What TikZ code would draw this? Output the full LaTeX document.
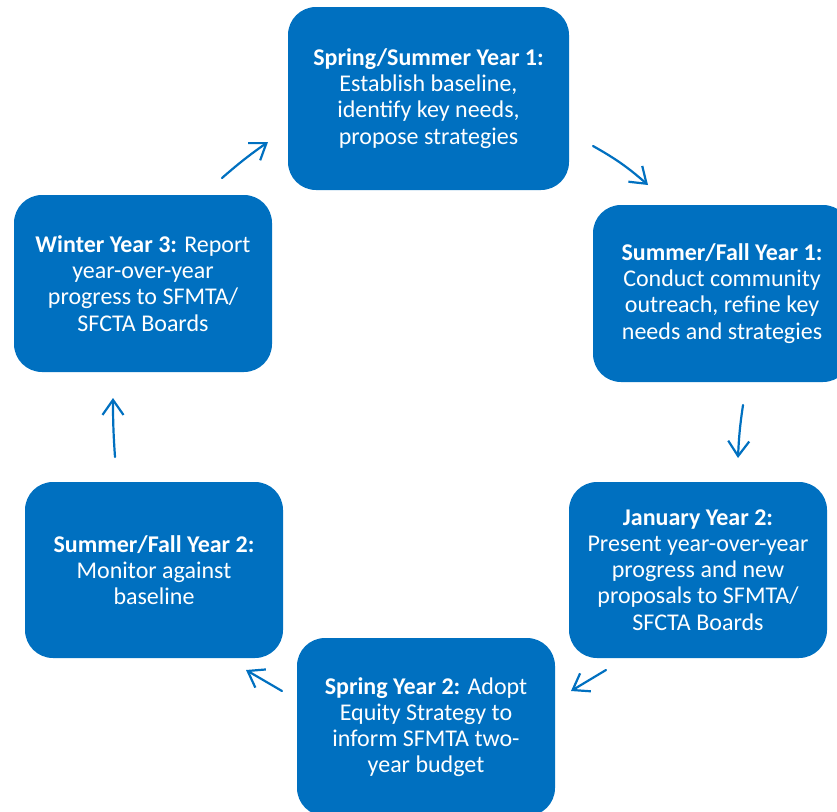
\documentclass[tikz,border=0pt]{standalone}
\usepackage{fontspec}
\setmainfont{Carlito}
\usetikzlibrary{arrows.meta}
\definecolor{boxblue}{HTML}{0070C0}
\begin{document}
\begin{tikzpicture}[x=1pt,y=-1pt,
  stage/.style={fill=boxblue, draw=none, rounded corners=28pt, text=white,
    align=center, inner sep=0pt, minimum width=258pt, minimum height=177pt,
    font=\fontsize{24}{26.2}\selectfont},
  flow/.style={draw=boxblue, line width=2.2pt, line cap=round,
    -{Straight Barb[length=15pt,width=21pt,line width=2.2pt]}}]
\useasboundingbox (0,0) rectangle (837,811);
\clip (0,0) rectangle (837,811);
\node[stage, minimum width=281pt, minimum height=183pt] (s1) at (428.5,98.5)
  {\textbf{Spring/Summer Year 1:}\\Establish baseline,\\identify key needs,\\propose strategies};
\node[stage] (s2) at (722,293.5)
  {\textbf{Summer/Fall Year 1:}\\Conduct community\\outreach, refine key\\needs and strategies};
\node[stage, minimum height=176pt] (s3) at (698,570)
  {\textbf{January Year 2:}\\Present year-over-year\\progress and new\\proposals to SFMTA/\\SFCTA Boards};
\node[stage, minimum height=178pt] (s4) at (426,727)
  {\textbf{Spring Year 2:} Adopt\\Equity Strategy to\\inform SFMTA two-\\year budget};
\node[stage, minimum height=176pt] (s5) at (154,570)
  {\textbf{Summer/Fall Year 2:}\\Monitor against\\baseline};
\node[stage] (s6) at (143,283.5)
  {\textbf{Winter Year 3:} Report\\year-over-year\\progress to SFMTA/\\SFCTA Boards};
\coordinate (a1s) at (222,178); \coordinate (a1e) at (268,142);
\coordinate (a2s) at (593,146); \coordinate (a2e) at (648,185);
\coordinate (a3s) at (743,405); \coordinate (a3e) at (738,458);
\coordinate (a4s) at (606,670); \coordinate (a4e) at (571,691);
\coordinate (a5s) at (282,691); \coordinate (a5e) at (246,670);
\coordinate (a6s) at (115,457); \coordinate (a6e) at (113,398);
\draw[flow] (a1s) to[bend left=3] (a1e);
\draw[flow] (a2s) to[bend left=6] (a2e);
\draw[flow] (a3s) to[bend right=3] (a3e);
\draw[flow] (a4s) -- (a4e);
\draw[flow] (a5s) -- (a5e);
\draw[flow] (a6s) to[bend left=2] (a6e);
\end{tikzpicture}
\end{document}
